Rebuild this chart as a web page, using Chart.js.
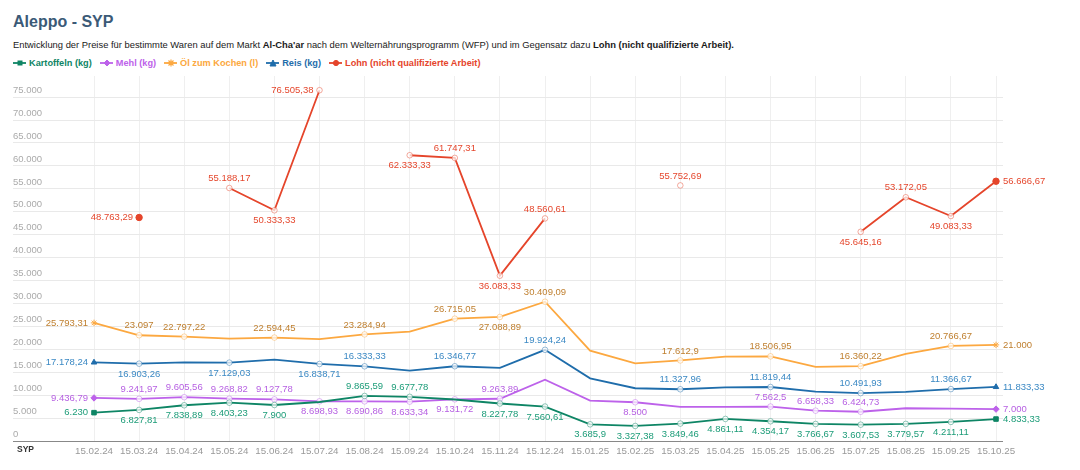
<!DOCTYPE html>
<html>
<head>
<meta charset="utf-8">
<script src="https://cdn.jsdelivr.net/npm/chart.js@4.4.1/dist/chart.umd.min.js"></script>
<style>
  body { margin: 0; width: 1080px; height: 470px; background: #fff; position: relative; overflow: hidden;
         font-family: "Liberation Sans", Arial, sans-serif; }
  #title { position: absolute; left: 13px; top: 13px; font-size: 16px; font-weight: bold; color: #3b5a77; }
  #subtitle { position: absolute; left: 13px; top: 39px; font-size: 9.4px; color: #1a1a1a; }
  #legend { position: absolute; left: 13px; top: 58px; font-size: 9.2px; font-weight: bold; display: flex; gap: 8px; }
  #legend .item { display: flex; align-items: center; gap: 3px; }
  #wrap { position: absolute; left: 0; top: 68px; width: 1080px; height: 402px; }
  #unit { position: absolute; left: 17px; top: 444px; font-size: 8.5px; font-weight: bold; color: #333; }
</style>
</head>
<body>
<div id="title">Aleppo - SYP</div>
<div id="subtitle">Entwicklung der Preise für bestimmte Waren auf dem Markt <b>Al-Cha'ar</b> nach dem Welternährungsprogramm (WFP) und im Gegensatz dazu <b>Lohn (nicht qualifizierte Arbeit).</b></div>
<div id="legend"></div>
<div id="wrap"><canvas id="chart"></canvas></div>
<div id="unit">SYP</div>
<script>
const categories = ["15.02.24", "15.03.24", "15.04.24", "15.05.24", "15.06.24", "15.07.24", "15.08.24",
  "15.09.24", "15.10.24", "15.11.24", "15.12.24", "15.01.25", "15.02.25", "15.03.25", "15.04.25",
  "15.05.25", "15.06.25", "15.07.25", "15.08.25", "15.09.25", "15.10.25"];

const kartoffeln = [6230, 6827.81, 7838.89, 8403.23, 7900, 8550, 9865.59, 9677.78, 9100, 8227.78, 7560.61,
  3685.9, 3327.38, 3849.46, 4861.11, 4354.17, 3766.67, 3607.53, 3779.57, 4211.11, 4833.33];
const mehl = [9436.79, 9241.97, 9605.56, 9268.82, 9127.78, 8698.93, 8690.86, 8633.34, 9131.72, 9263.89, 13400,
  8860, 8500, 7480, 7480, 7562.5, 6658.33, 6424.73, 7190, 7120, 7000];
const oel = [25793.31, 23097, 22797.22, 22350, 22594.45, 22250, 23284.94, 23890, 26715.05, 27088.89, 30409.09,
  19750, 16990, 17612.9, 18450, 18506.95, 16200, 16360.22, 19020, 20766.67, 21000];
const reis = [17178.24, 16903.26, 17200, 17129.03, 17790, 16838.71, 16333.33, 15400, 16346.77, 15980, 19924.24,
  13720, 11550, 11327.96, 11760, 11819.44, 10820, 10491.93, 10750, 11366.67, 11833.33];
const lohn = [null, 48763.29, null, 55188.17, 50333.33, 76505.38, null, 62333.33, 61747.31, 36083.33, 48560.61,
  null, null, 55752.69, null, null, null, 45645.16, 53172.05, 49083.33, 56666.67];

const yTicks = [0, 5000, 10000, 15000, 20000, 25000, 30000, 35000, 40000, 45000, 50000, 55000, 60000,
  65000, 70000, 75000];

// where each value label sits: t = above, b = below, l = left, r = right, null = no label
const kartoffelnPos = ["l", "b", "b", "b", "b", null, "t", "t", null, "b", "b", "b", "b", "b", "b", "b", "b", "b", "b", "b", "r"];
const mehlPos = ["l", "t", "t", "t", "t", "b", "b", "b", "b", "t", null, null, "b", null, null, "t", "t", "t", null, null, "r"];
const oelPos = ["l", "t", "t", null, "t", null, "t", null, "t", "b", "t", null, null, "t", null, "t", null, "t", null, "t", "r"];
const reisPos = ["l", "b", null, "b", null, "b", "t", null, "t", null, "t", null, null, "t", null, "t", null, "t", null, "t", "r"];
const lohnPos = [null, "l", null, "t", "b", "l", null, "b", "t", "b", "t", null, null, "t", null, null, null, "b", "t", "b", "r"];

function fmt(v) {
  const parts = (Math.round(v * 100) / 100).toFixed(2).split(".");
  const int = parts[0].replace(/\B(?=(\d{3})+(?!\d))/g, ".");
  const dec = parts[1].replace(/0+$/, "");
  return dec ? int + "," + dec : int;
}

function hexA(hex, a) {
  const n = parseInt(hex.slice(1), 16);
  return "rgba(" + (n >> 16) + "," + ((n >> 8) & 255) + "," + (n & 255) + "," + a + ")";
}

const series = [
  { label: "Kartoffeln (kg)", values: kartoffeln, pos: kartoffelnPos, color: "#0e8565", text: "#1c9c78", shape: "rect" },
  { label: "Mehl (kg)", values: mehl, pos: mehlPos, color: "#bd62ea", text: "#b65fe2", shape: "rectRot" },
  { label: "Öl zum Kochen (l)", values: oel, pos: oelPos, color: "#fca840", text: "#bf7f2e", shape: "star" },
  { label: "Reis (kg)", values: reis, pos: reisPos, color: "#1f6dab", text: "#3b89c4", shape: "triangle" },
  { label: "Lohn (nicht qualifizierte Arbeit)", values: lohn, pos: lohnPos, color: "#e5452b", text: "#e5472d", shape: "circle" }
];

function isEnd(s, i) {
  const first = s.values.findIndex(v => v !== null);
  return i === first || i === s.values.length - 1;
}

// legend
const legendIcons = {
  rect: '<rect x="5" y="2" width="4" height="4"/>',
  rectRot: '<path d="M7 1 L10 4 L7 7 L4 4 Z"/>',
  star: '<path d="M7 0.5 L7 7.5 M3.5 4 L10.5 4 M4.5 1.5 L9.5 6.5 M9.5 1.5 L4.5 6.5" stroke-width="1.2"/>',
  triangle: '<path d="M7 1 L10 7 L4 7 Z"/>',
  circle: '<circle cx="7" cy="4" r="2.6"/>'
};
const legendEl = document.getElementById("legend");
series.forEach(s => {
  const item = document.createElement("div");
  item.className = "item";
  item.style.color = s.color;
  item.innerHTML = '<svg width="13" height="8" fill="' + s.color + '" stroke="' + s.color + '">' +
    '<line x1="0" y1="4" x2="13" y2="4" stroke-width="1.8"/>' + legendIcons[s.shape] + '</svg>' +
    '<span>' + s.label + '</span>';
  legendEl.appendChild(item);
});

const valueLabels = {
  id: "valueLabels",
  afterDatasetsDraw(chart) {
    const ctx = chart.ctx;
    ctx.save();
    ctx.font = "9.5px 'Liberation Sans', Arial, sans-serif";
    chart.data.datasets.forEach((ds, di) => {
      const s = series[di];
      const meta = chart.getDatasetMeta(di);
      s.pos.forEach((p, i) => {
        if (!p || s.values[i] === null) return;
        const pt = meta.data[i];
        let x = pt.x, y = pt.y;
        ctx.fillStyle = s.text;
        ctx.textBaseline = "middle";
        if (p === "t") { ctx.textAlign = "center"; y -= 9.5; }
        else if (p === "b") { ctx.textAlign = "center"; y += 10.5; }
        else if (p === "l") { ctx.textAlign = "right"; x -= 6; }
        else { ctx.textAlign = "left"; x += 7; }
        ctx.fillText(fmt(s.values[i]), x, y);
      });
    });
    ctx.restore();
  }
};

new Chart(document.getElementById("chart"), {
  type: "line",
  data: {
    datasets: series.map(s => ({
      label: s.label,
      data: s.values.map((v, i) => ({ x: i, y: v })),
      borderColor: s.color,
      borderWidth: 1.8,
      spanGaps: false,
      tension: 0,
      pointStyle: ctx => isEnd(s, ctx.dataIndex) ? s.shape : "circle",
      pointRadius: ctx => isEnd(s, ctx.dataIndex) ? 3.2 : (s.pos[ctx.dataIndex] ? 2.8 : 0),
      pointBackgroundColor: ctx => isEnd(s, ctx.dataIndex) ? s.color : "rgba(255,255,255,0.7)",
      pointBorderColor: ctx => isEnd(s, ctx.dataIndex) ? s.color : hexA(s.color, 0.45),
      pointBorderWidth: 1,
      pointHoverRadius: 0
    }))
  },
  options: {
    responsive: true,
    maintainAspectRatio: false,
    animation: false,
    layout: { padding: { left: 13, right: 77, top: 8, bottom: 9 } },
    plugins: { legend: { display: false }, tooltip: { enabled: false } },
    scales: {
      x: {
        type: "linear",
        min: -1.796,
        max: 20.155,
        afterBuildTicks: scale => { scale.ticks = categories.map((c, i) => ({ value: i })); },
        ticks: {
          callback: v => categories[v],
          autoSkip: false,
          maxRotation: 0,
          padding: 4,
          color: "#999",
          font: { size: 9.8, family: "'Liberation Sans', Arial, sans-serif" }
        },
        grid: { color: "#efefef", drawTicks: false },
        border: { display: false }
      },
      y: {
        min: 0,
        max: 79600,
        afterBuildTicks: scale => { scale.ticks = yTicks.map(v => ({ value: v })); },
        ticks: {
          mirror: true,
          padding: 0,
          labelOffset: -7,
          callback: v => fmt(v),
          color: "#aaa",
          font: { size: 9.5, family: "'Liberation Sans', Arial, sans-serif" }
        },
        grid: {
          color: ctx => ctx.tick && ctx.tick.value === 0 ? "#888" : "#e9e9e9",
          drawTicks: false
        },
        border: { display: false }
      }
    }
  },
  plugins: [valueLabels]
});
</script>
</body>
</html>
